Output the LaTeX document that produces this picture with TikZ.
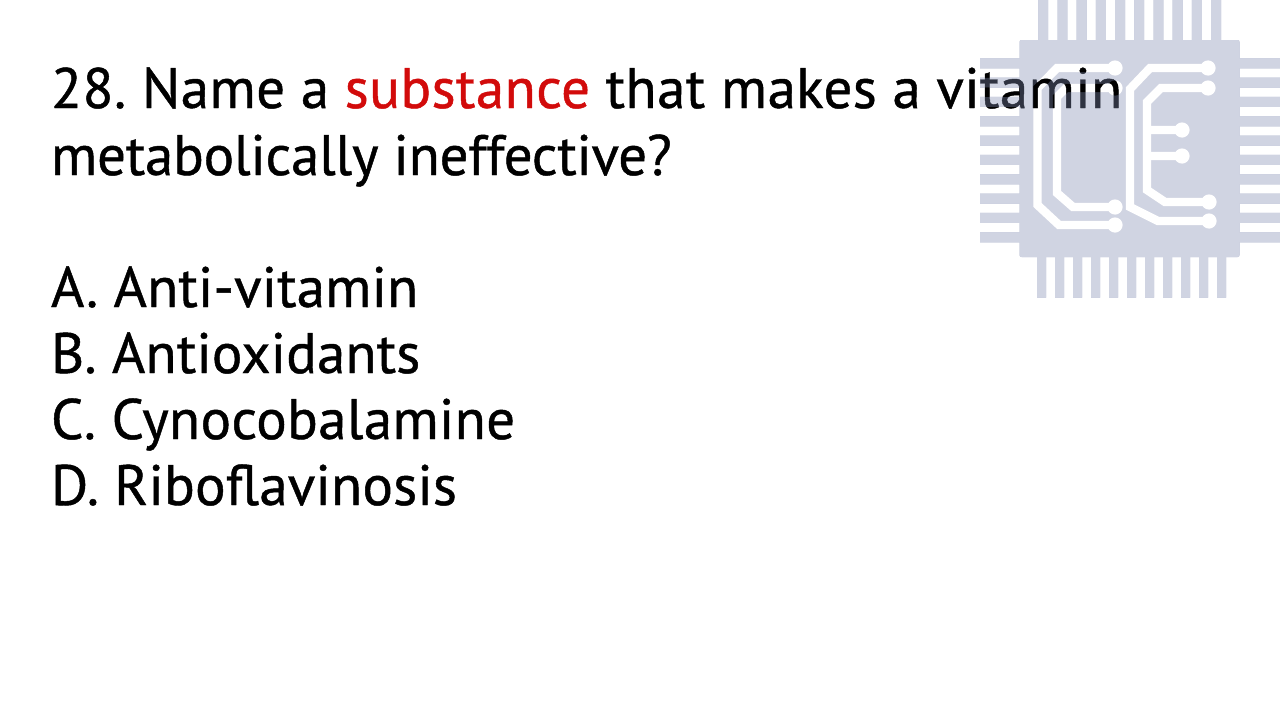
\documentclass[tikz,border=0pt]{standalone}
\usepackage{fontspec}
\usetikzlibrary{fadings}
\setmainfont[LetterSpace=0.8,FakeBold=0.8]{PT Sans}
\definecolor{chipcol}{HTML}{808BB1}
\definecolor{qred}{HTML}{D20B0B}
\newcommand{\spaced}[1]{\addfontfeatures{LetterSpace=#1}}
\tikzset{
  slidetext/.style={anchor=base west,inner sep=0pt,outer sep=0pt,font=\fontsize{57}{66}\selectfont\frenchspacing,text=black},
  trace/.style={draw=transparent!100,line width=8.4pt,line join=miter},
}
\begin{tikzfadingfrompicture}[name=chipmask,x=1pt,y=-1pt]
  \path (980,0) rectangle (1280,298);
  \fill[transparent!63,rounded corners=2pt] (1019.5,40) rectangle (1239.5,257);
  \foreach \i in {0,...,9}{
    \fill[transparent!63] ({1038.3+19.2*\i},0) rectangle ({1048.2+19.2*\i},41);
    \fill[transparent!63] (980,{58.3+19.33*\i}) rectangle (1020,{68.3+19.33*\i});
    \fill[transparent!63] (1239,{58.3+19.33*\i}) rectangle (1280,{68.3+19.33*\i});
  }
  \foreach \i in {0,...,10}{
    \fill[transparent!63] ({1037+18*\i},256) rectangle ({1046+18*\i},297.7);
  }
  \draw[trace] (1115,68) -- (1057,68) -- (1037.5,88) -- (1037.5,205) -- (1059,225) -- (1115,225);
  \draw[trace] (1115,88) -- (1066,88) -- (1057,97) -- (1057,193) -- (1073,207) -- (1115,207);
  \draw[trace] (1208,68) -- (1150,68) -- (1130,89) -- (1130,207) -- (1158,221) -- (1209,221);
  \draw[trace] (1208,88) -- (1161,88) -- (1147,102) -- (1147,190) -- (1165,202) -- (1208,202);
  \draw[trace] (1182,130) -- (1147,130);
  \draw[trace] (1182,156) -- (1147,156);
  \foreach \p in {(1115,68),(1115,88),(1115,207),(1115,225),(1208,68),(1208,88),(1182,130),(1182,156),(1209,202),(1209,221)}{
    \fill[transparent!100] \p circle (7.6);
  }
\end{tikzfadingfrompicture}
\begin{document}
\begin{tikzpicture}[x=1pt,y=-1pt]
\useasboundingbox (0,0) rectangle (1280,720);
\fill[white] (0,0) rectangle (1280,720);
\node[slidetext] (q1) at (51,108) {28. Name a \textcolor{qred}{substance} that makes a vitamin};
\node[slidetext] (q2) at (51,175) {\spaced{-0.35}metabolically ineffective?};
\node[slidetext] (a) at (51,307) {\spaced{0.3}A. Anti-vitamin};
\node[slidetext] (b) at (51,373) {\spaced{0.3}B. Antioxidants};
\node[slidetext] (c) at (51,439) {\spaced{0.6}C. Cynocobalamine};
\node[slidetext] (d) at (51,505) {\spaced{0.4}D. Riboflavinosis};
\fill[chipcol,path fading=chipmask,fit fading=false,fading transform={shift={(1130,149)}}] (980,0) rectangle (1280,298);
\end{tikzpicture}
\end{document}
